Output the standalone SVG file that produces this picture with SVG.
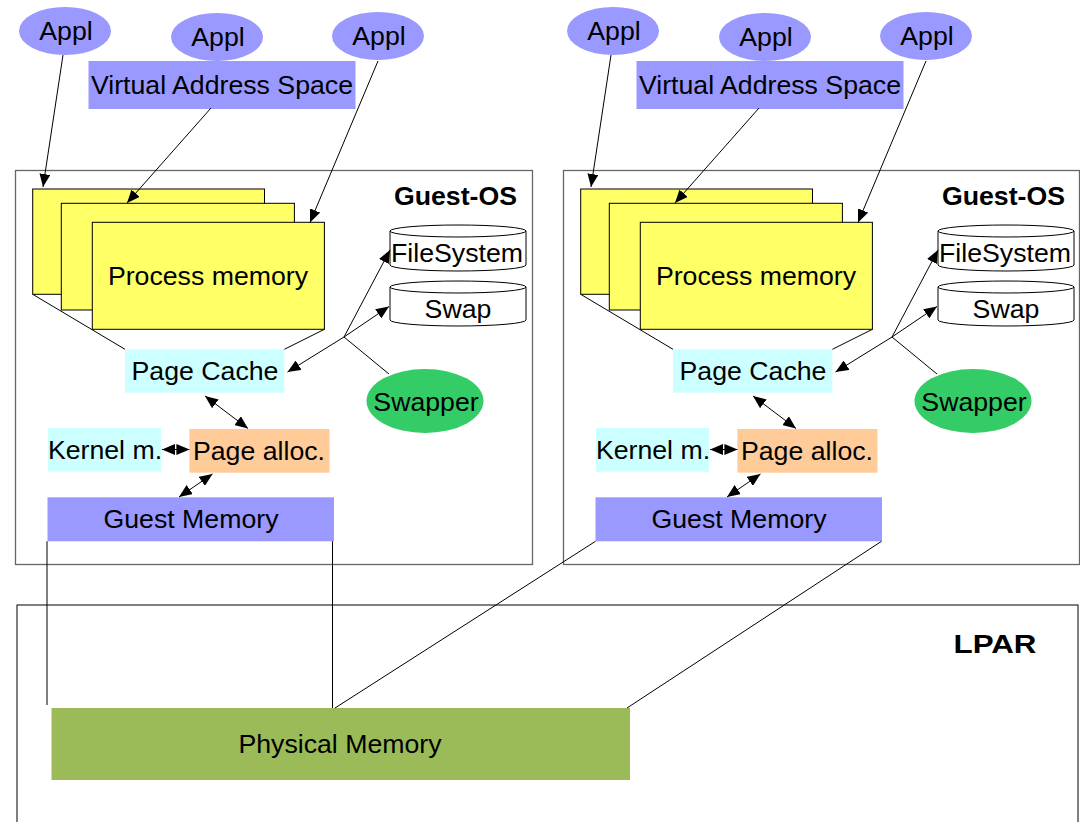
<svg xmlns="http://www.w3.org/2000/svg" width="1080" height="822" viewBox="0 0 1080 822">
<style>
.t{font-family:"Liberation Sans",Arial,sans-serif;font-size:26.7px;fill:#000;text-anchor:middle}
.b{font-weight:bold}
.ln{stroke:#000;stroke-width:1;fill:none}
.box{fill:#fff;stroke:#666;stroke-width:1.3}
.blue{fill:#9999ff}
.cyan{fill:#ccffff}
.pm{fill:#ffff66;stroke:#000;stroke-width:1}
.cyl{fill:#fff;stroke:#000;stroke-width:1}
</style>
<defs>
<marker id="ah" markerUnits="userSpaceOnUse" markerWidth="13" markerHeight="11" refX="13" refY="5.5" orient="auto-start-reverse" viewBox="0 0 13 11">
<path d="M0,0 L13,5.5 L0,11 Z" fill="#000"/>
</marker>
</defs>
<rect width="1080" height="822" fill="#fff"/>

<g id="lpar">
<rect x="17" y="605" width="1061" height="240" fill="#fff" stroke="#000" stroke-width="1"/>
<text class="t b" x="995" y="653" font-size="32" textLength="83" lengthAdjust="spacingAndGlyphs">LPAR</text>
</g>
<g id="physical-memory">
<rect x="51.5" y="708" width="578.5" height="72" fill="#9bbb59"/>
<text class="t" x="340" y="753">Physical Memory</text>
</g>

<g id="side1">
<g id="guest-os-1"><rect class="box" x="15.5" y="170.5" width="517" height="394"/>
<text class="t b" x="517" y="205" style="text-anchor:end">Guest-OS</text></g>
<g id="appl-1a"><ellipse class="blue" cx="65" cy="31" rx="46" ry="24"/><text class="t" x="66" y="40">Appl</text></g>
<g id="appl-1b"><ellipse class="blue" cx="217" cy="37" rx="46" ry="24"/><text class="t" x="218" y="46">Appl</text></g>
<g id="appl-1c"><ellipse class="blue" cx="378" cy="36" rx="46" ry="24"/><text class="t" x="379" y="45">Appl</text></g>
<g id="vas-1"><rect class="blue" x="88.5" y="61" width="267" height="48"/><text class="t" x="222" y="94">Virtual Address Space</text></g>
<g id="procmem-1">
<rect class="pm" x="32.7" y="189" width="231.8" height="105.3" stroke="#555"/>
<rect class="pm" x="61.3" y="203.3" width="233.1" height="106.7"/>
<rect class="pm" x="92.3" y="222.3" width="232.1" height="107"/>
<text class="t" x="208" y="285">Process memory</text>
</g>
<g id="filesystem-1">
<path class="cyl" d="M390,231 L390,265 A68,6 0 0 0 526,265 L526,231"/>
<ellipse class="cyl" cx="458" cy="231" rx="68" ry="6"/>
<text class="t" x="457" y="262">FileSystem</text>
</g>
<g id="swap-1">
<path class="cyl" d="M390,287 L390,320 A68,6 0 0 0 526,320 L526,287"/>
<ellipse class="cyl" cx="458" cy="287" rx="68" ry="6"/>
<text class="t" x="458" y="318">Swap</text>
</g>
<g id="pagecache-1"><rect class="cyan" x="125" y="349.3" width="159.4" height="43.4"/><text class="t" x="205" y="380">Page Cache</text></g>
<g id="swapper-1"><ellipse cx="425" cy="401" rx="58.5" ry="32" fill="#33cc66"/><text class="t" x="426" y="411">Swapper</text></g>
<g id="kernelm-1"><rect class="cyan" x="48" y="428" width="113" height="43.7"/><text class="t" x="105" y="459">Kernel m.</text></g>
<g id="pagealloc-1"><rect x="189.4" y="429" width="140.1" height="43.7" fill="#ffcc99"/><text class="t" x="259" y="460">Page alloc.</text></g>
<g id="guestmem-1"><rect class="blue" x="47.5" y="497.3" width="286.5" height="44"/><text class="t" x="191" y="528">Guest Memory</text></g>
</g>

<g id="side2" transform="translate(548,0)">
<g id="guest-os-2"><rect class="box" x="15.5" y="170.5" width="516" height="394"/>
<text class="t b" x="517" y="205" style="text-anchor:end">Guest-OS</text></g>
<g id="appl-2a"><ellipse class="blue" cx="65" cy="31" rx="46" ry="24"/><text class="t" x="66" y="40">Appl</text></g>
<g id="appl-2b"><ellipse class="blue" cx="217" cy="37" rx="46" ry="24"/><text class="t" x="218" y="46">Appl</text></g>
<g id="appl-2c"><ellipse class="blue" cx="378" cy="36" rx="46" ry="24"/><text class="t" x="379" y="45">Appl</text></g>
<g id="vas-2"><rect class="blue" x="88.5" y="61" width="267" height="48"/><text class="t" x="222" y="94">Virtual Address Space</text></g>
<g id="procmem-2">
<rect class="pm" x="32.7" y="189" width="231.8" height="105.3" stroke="#555"/>
<rect class="pm" x="61.3" y="203.3" width="233.1" height="106.7"/>
<rect class="pm" x="92.3" y="222.3" width="232.1" height="107"/>
<text class="t" x="208" y="285">Process memory</text>
</g>
<g id="filesystem-2">
<path class="cyl" d="M390,231 L390,265 A68,6 0 0 0 526,265 L526,231"/>
<ellipse class="cyl" cx="458" cy="231" rx="68" ry="6"/>
<text class="t" x="457" y="262">FileSystem</text>
</g>
<g id="swap-2">
<path class="cyl" d="M390,287 L390,320 A68,6 0 0 0 526,320 L526,287"/>
<ellipse class="cyl" cx="458" cy="287" rx="68" ry="6"/>
<text class="t" x="458" y="318">Swap</text>
</g>
<g id="pagecache-2"><rect class="cyan" x="125" y="349.3" width="159.4" height="43.4"/><text class="t" x="205" y="380">Page Cache</text></g>
<g id="swapper-2"><ellipse cx="425" cy="401" rx="58.5" ry="32" fill="#33cc66"/><text class="t" x="426" y="411">Swapper</text></g>
<g id="kernelm-2"><rect class="cyan" x="48" y="428" width="113" height="43.7"/><text class="t" x="105" y="459">Kernel m.</text></g>
<g id="pagealloc-2"><rect x="189.4" y="429" width="140.1" height="43.7" fill="#ffcc99"/><text class="t" x="259" y="460">Page alloc.</text></g>
<g id="guestmem-2"><rect class="blue" x="47.5" y="497.3" width="286.5" height="44"/><text class="t" x="191" y="528">Guest Memory</text></g>
</g>

<g id="connectors">
<g id="conn-side1">
<line class="ln" x1="63" y1="55" x2="43" y2="187" marker-end="url(#ah)"/>
<line class="ln" x1="211" y1="108" x2="127" y2="203" marker-end="url(#ah)"/>
<line class="ln" x1="378" y1="61" x2="310" y2="222.5" marker-end="url(#ah)"/>
<line class="ln" x1="32.7" y1="294.3" x2="125" y2="349.3"/>
<line class="ln" x1="324.4" y1="329.3" x2="284.4" y2="349.3"/>
<line class="ln" x1="344" y1="337" x2="390" y2="250" marker-end="url(#ah)"/>
<line class="ln" x1="344" y1="337" x2="389" y2="306.5" marker-end="url(#ah)"/>
<line class="ln" x1="344" y1="337" x2="287.5" y2="372" marker-end="url(#ah)"/>
<line class="ln" x1="344" y1="337" x2="389" y2="374"/>
<line class="ln" x1="205" y1="396" x2="248" y2="428.5" marker-start="url(#ah)" marker-end="url(#ah)"/>
<line class="ln" x1="162" y1="449.5" x2="189.4" y2="449.5" marker-start="url(#ah)" marker-end="url(#ah)"/>
<line class="ln" x1="212.5" y1="474" x2="179" y2="497" marker-start="url(#ah)" marker-end="url(#ah)"/>
</g>
<g id="conn-side2" transform="translate(548,0)">
<line class="ln" x1="63" y1="55" x2="43" y2="187" marker-end="url(#ah)"/>
<line class="ln" x1="211" y1="108" x2="127" y2="203" marker-end="url(#ah)"/>
<line class="ln" x1="378" y1="61" x2="310" y2="222.5" marker-end="url(#ah)"/>
<line class="ln" x1="32.7" y1="294.3" x2="125" y2="349.3"/>
<line class="ln" x1="324.4" y1="329.3" x2="284.4" y2="349.3"/>
<line class="ln" x1="344" y1="337" x2="390" y2="250" marker-end="url(#ah)"/>
<line class="ln" x1="344" y1="337" x2="389" y2="306.5" marker-end="url(#ah)"/>
<line class="ln" x1="344" y1="337" x2="287.5" y2="372" marker-end="url(#ah)"/>
<line class="ln" x1="344" y1="337" x2="389" y2="374"/>
<line class="ln" x1="205" y1="396" x2="248" y2="428.5" marker-start="url(#ah)" marker-end="url(#ah)"/>
<line class="ln" x1="162" y1="449.5" x2="189.4" y2="449.5" marker-start="url(#ah)" marker-end="url(#ah)"/>
<line class="ln" x1="212.5" y1="474" x2="179" y2="497" marker-start="url(#ah)" marker-end="url(#ah)"/>
</g>
<g id="conn-physical">
<line class="ln" x1="47" y1="541.3" x2="47" y2="705"/>
<line class="ln" x1="332.5" y1="541.3" x2="332.5" y2="708"/>
<line class="ln" x1="595.5" y1="541.3" x2="335" y2="708"/>
<line class="ln" x1="881.5" y1="541.3" x2="627" y2="708"/>
</g>
</g>
</svg>
